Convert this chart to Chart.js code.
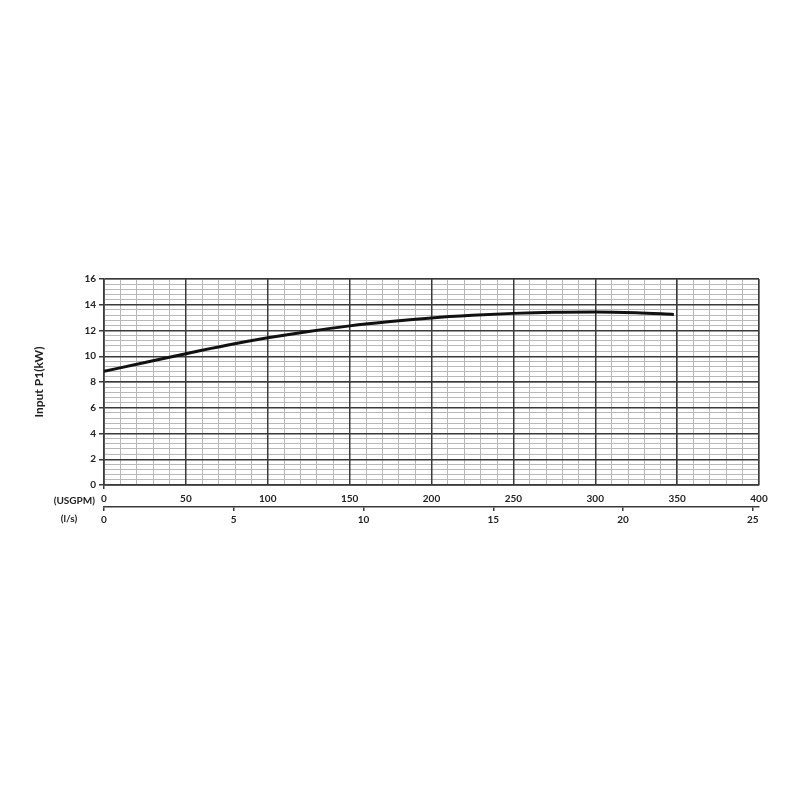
<!DOCTYPE html>
<html>
<head>
<meta charset="utf-8">
<script src="https://cdn.jsdelivr.net/npm/chart.js@4"></script>
<style>
  html, body { margin: 0; padding: 0; background: #fff; }
  #wrap { width: 800px; height: 800px; }
</style>
</head>
<body>
<div id="wrap"><canvas id="powerChart" width="800" height="800"></canvas></div>
<script>
// Flow in USGPM and input power
const flowUsgpm = [0, 25, 50, 75, 100, 125, 150, 175, 200, 225, 250, 275, 300, 325, 348];
const powerKw = [8.83, 9.52, 10.2, 10.85, 11.43, 11.93, 12.36, 12.7, 12.98, 13.18, 13.33, 13.42, 13.44, 13.38, 13.25];

const usgpmMax = 400;
const lpsMax = usgpmMax * 0.0630902; // same span in l/s
const powerMax = 16;

const majorColor = "#3a3a3a";
const minorColor = "#b8b8b8";
const labelFont = { family: "Lato", size: 10, weight: "bold" };

// Unit captions to the left of the two flow axes
const unitLabels = {
    id: "unitLabels",
    afterDraw(chart) {
        const ctx = chart.ctx;
        const left = chart.chartArea.left;
        ctx.save();
        ctx.font = "bold 10px Lato";
        ctx.fillStyle = "#222";
        ctx.textBaseline = "middle";
        ctx.textAlign = "right";
        const xs = chart.scales.x;
        ctx.fillText("(USGPM)", left - 9, xs.top + 16);
        const ls = chart.scales.lps;
        ctx.textAlign = "center";
        ctx.fillText("(l/s)", left - 35, ls.top + 12);
        ctx.restore();
    }
};

// hidden axes that only carry the light minor grid, drawn under the major one
const minorAxis = (pos, max, step) => ({
    type: "linear",
    position: pos,
    min: 0,
    max: max,
    afterFit: s => { if (pos === "top") s.height = 0; else s.width = 0; },
    ticks: { display: false, stepSize: step, autoSkip: false },
    grid: { color: minorColor, lineWidth: 1, drawTicks: false, z: -2 },
    border: { display: false }
});

new Chart(document.getElementById("powerChart"), {
    type: "line",
    data: {
        datasets: [{
            label: "Input P1",
            data: flowUsgpm.map((f, i) => ({ x: f, y: powerKw[i] })),
            borderColor: "#111",
            borderWidth: 3,
            pointRadius: 0,
            cubicInterpolationMode: "monotone",
            fill: false
        }]
    },
    options: {
        responsive: false,
        animation: false,
        layout: { padding: { left: 20, right: 41, top: 279, bottom: 268 } },
        plugins: {
            legend: { display: false },
            tooltip: { enabled: false }
        },
        scales: {
            x: {
                type: "linear",
                position: "bottom",
                min: 0,
                max: usgpmMax,
                afterFit: s => { s.height = 22; },
                ticks: {
                    stepSize: 50,
                    autoSkip: false,
                    maxRotation: 0,
                    padding: 4,
                    color: "#222",
                    font: labelFont
                },
                grid: {
                    color: majorColor,
                    lineWidth: 1.5,
                    tickColor: c => c.tick.value === 0 ? majorColor : "rgba(0,0,0,0)",
                    tickLength: 4,
                    z: -1
                },
                border: { color: majorColor, width: 1.5 }
            },
            lps: {
                type: "linear",
                position: "bottom",
                min: 0,
                max: lpsMax,
                afterFit: s => { s.height = 25; },
                ticks: {
                    stepSize: 5,
                    includeBounds: false,
                    autoSkip: false,
                    maxRotation: 0,
                    padding: 3,
                    color: "#222",
                    font: labelFont
                },
                grid: {
                    drawOnChartArea: false,
                    color: majorColor,
                    tickLength: 4,
                    lineWidth: 1.5
                },
                border: { color: majorColor, width: 1.5 }
            },
            xMinor: minorAxis("top", usgpmMax, 10),
            y: {
                min: 0,
                max: powerMax,
                afterFit: s => { s.width = 84; },
                ticks: {
                    stepSize: 2,
                    autoSkip: false,
                    padding: 3,
                    color: "#222",
                    font: labelFont
                },
                grid: {
                    color: majorColor,
                    lineWidth: 1.5,
                    tickLength: 5,
                    z: -1
                },
                border: { color: majorColor, width: 1.5 },
                title: {
                    display: true,
                    text: "Input P1(kW)",
                    color: "#222",
                    font: { family: "Lato", size: 12, weight: "bold" },
                    padding: { top: 12, bottom: 0 }
                }
            },
            yMinor: minorAxis("right", powerMax, 0.4)
        }
    },
    plugins: [unitLabels]
});
</script>
</body>
</html>
